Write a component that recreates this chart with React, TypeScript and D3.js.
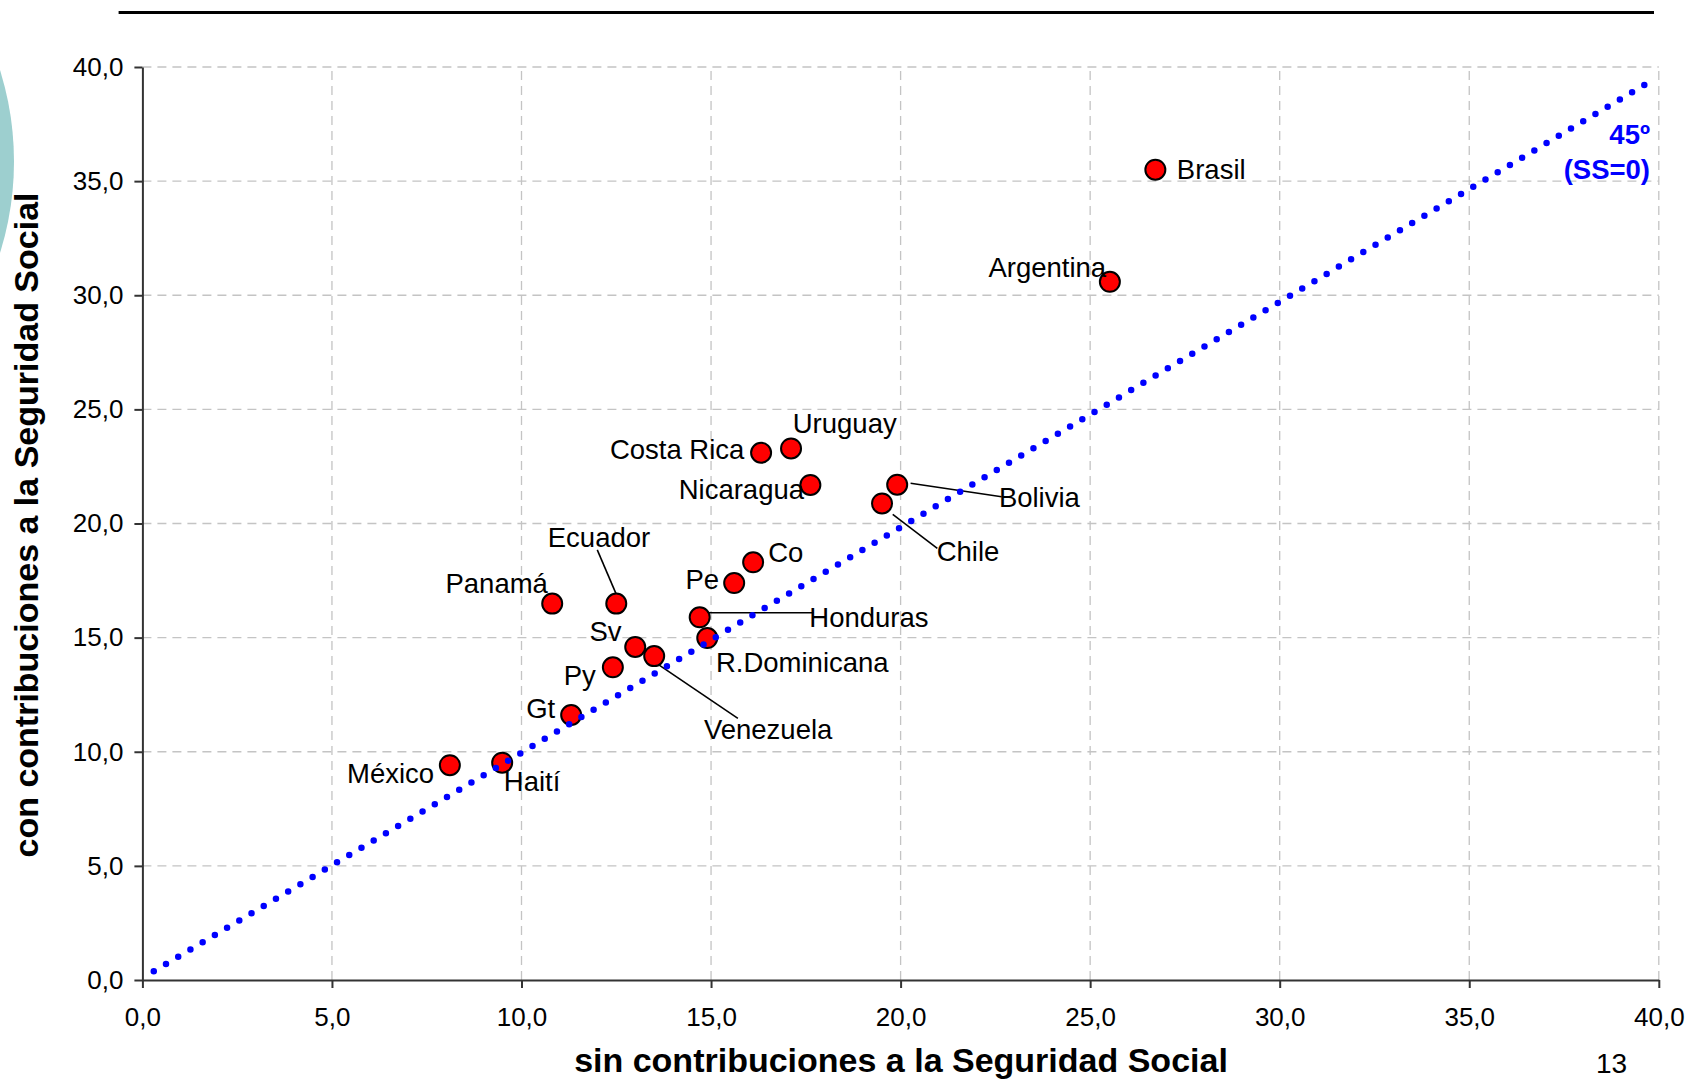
import React, { useEffect, useRef } from "react";
import * as d3 from "d3";

// ---- data ----
const countries = [
  "Brasil", "Argentina", "Uruguay", "Costa Rica", "Nicaragua", "Bolivia", "Chile",
  "Co", "Pe", "Panamá", "Ecuador", "Honduras", "R.Dominicana", "Sv", "Venezuela",
  "Py", "Gt", "Haití", "México",
];
const sinSS = [
  26.72, 25.52, 17.11, 16.32, 17.62, 19.91, 19.51,
  16.11, 15.61, 10.81, 12.5, 14.7, 14.9, 13.0, 13.5,
  12.41, 11.31, 9.49, 8.11,
];
const conSS = [
  35.5, 30.59, 23.29, 23.1, 21.69, 21.7, 20.88,
  18.3, 17.39, 16.49, 16.49, 15.89, 14.98, 14.59, 14.19,
  13.7, 11.61, 9.52, 9.41,
];
const diagonal = [
  { x: 0.3, y: 0.38 },
  { x: 39.94, y: 39.53 },
];
const tickValues = [0, 5, 10, 15, 20, 25, 30, 35, 40];
const xTitle = "sin contribuciones a la Seguridad Social";
const yTitle = "con contribuciones a la Seguridad Social";
const diagLabel = ["45º", "(SS=0)"];
const pageNumber = "13";

// ---- label layout (pixel offsets from marker centre) ----
type LabelPos = { dx: number; dy: number; anchor: string; leader?: [number, number, number, number] };
const labelLayout: Record<string, LabelPos> = {
  Brasil: { dx: 21.5, dy: 8.8, anchor: "start" },
  Argentina: { dx: -3.7, dy: -4.7, anchor: "end" },
  Uruguay: { dx: 1.7, dy: -15, anchor: "start" },
  "Costa Rica": { dx: -16.7, dy: 6.6, anchor: "end" },
  Nicaragua: { dx: -6.3, dy: 14.3, anchor: "end" },
  Ecuador: { dx: -17.3, dy: -57, anchor: "middle", leader: [-19, -53.7, 1, -7] },
  "Panamá": { dx: -4.3, dy: -11, anchor: "end" },
  Co: { dx: 15, dy: 0, anchor: "start" },
  Pe: { dx: -15, dy: 6, anchor: "end" },
  Honduras: { dx: 109.6, dy: 9.4, anchor: "start", leader: [0, -4.6, 113.6, -4.6] },
  "R.Dominicana": { dx: 8.7, dy: 33.7, anchor: "start" },
  Sv: { dx: -13.6, dy: -6, anchor: "end" },
  Venezuela: { dx: 49.7, dy: 83.3, anchor: "start", leader: [1.7, 6.7, 83.7, 62.3] },
  Py: { dx: -17, dy: 17.7, anchor: "end" },
  Gt: { dx: -16, dy: 3.3, anchor: "end" },
  Chile: { dx: 54.7, dy: 57.4, anchor: "start", leader: [10.7, 11, 55.3, 45] },
  Bolivia: { dx: 101.7, dy: 22, anchor: "start", leader: [13.4, -1.4, 104.4, 12] },
  "México": { dx: -15.7, dy: 18, anchor: "end" },
  "Haití": { dx: 1.7, dy: 28, anchor: "start" },
};

const W = 1688;
const H = 1080;
const FONT = "'Liberation Sans', Arial, Helvetica, sans-serif";

export default function App() {
  const xAxisRef = useRef<SVGGElement>(null);
  const yAxisRef = useRef<SVGGElement>(null);

  const x = d3.scaleLinear().domain([0, 40]).range([142.4, 1658.8]);
  const y = d3.scaleLinear().domain([0, 40]).range([980, 67]);
  const fmt = (v: number) => d3.format(".1f")(v).replace(".", ",");

  useEffect(() => {
    const style = (g: d3.Selection<SVGGElement, unknown, null, undefined>) => {
      g.select(".domain").attr("stroke", "#333").attr("stroke-width", 2);
      g.selectAll(".tick line").attr("stroke", "#333").attr("stroke-width", 2);
      g.selectAll(".tick text")
        .attr("fill", "#000")
        .style("font-family", FONT)
        .style("font-size", "26px");
    };
    if (xAxisRef.current) {
      const g = d3.select(xAxisRef.current);
      g.call(
        d3.axisBottom(x).tickValues(tickValues).tickSize(8).tickSizeOuter(0).tickPadding(20).tickFormat((d) => fmt(d as number))
      );
      style(g);
    }
    if (yAxisRef.current) {
      const g = d3.select(yAxisRef.current);
      g.call(
        d3.axisLeft(y).tickValues(tickValues).tickSize(8).tickSizeOuter(0).tickPadding(11).tickFormat((d) => fmt(d as number))
      );
      style(g);
    }
  }, []);

  const diagLine = d3
    .line<{ x: number; y: number }>()
    .x((d) => x(d.x))
    .y((d) => y(d.y));
  const p0 = diagonal[0];
  const p1 = diagonal[diagonal.length - 1];
  const diagLen = Math.hypot(x(p1.x) - x(p0.x), y(p1.y) - y(p0.y));
  const gap = diagLen / Math.round(diagLen / 14.2);

  const points = countries.map((name, i) => ({ name, px: x(sinSS[i]), py: y(conSS[i]) }));

  return (
    <svg
      width={W}
      height={H}
      style={{ position: "absolute", left: 0, top: 0, background: "#fff" }}
      fontFamily={FONT}
    >
      <rect x={0} y={0} width={W} height={H} fill="#fff" />
      {/* decorative teal circle */}
      <circle cx={-292} cy={161.5} r={306} fill="#9dcfcf" />
      {/* top rule */}
      <line x1={118.6} x2={1654} y1={12.5} y2={12.5} stroke="#000" strokeWidth={3} />

      {/* grid */}
      <g stroke="#c4c4c4" strokeWidth={1.3} strokeDasharray="9,6">
        {tickValues.filter((t) => t > 0).map((t) => (
          <line key={"v" + t} x1={x(t)} x2={x(t)} y1={y(0)} y2={y(40)} />
        ))}
        {tickValues.filter((t) => t > 0).map((t) => (
          <line key={"h" + t} x1={x(0)} x2={x(40)} y1={y(t)} y2={y(t)} />
        ))}
      </g>

      <g ref={xAxisRef} transform={`translate(0,${y(0)})`} />
      <g ref={yAxisRef} transform={`translate(${x(0)},0)`} />

      {/* leader lines */}
      <g stroke="#000" strokeWidth={1.6}>
        {points.map((p) => {
          const l = labelLayout[p.name];
          if (!l || !l.leader) return null;
          return (
            <line
              key={"ld" + p.name}
              x1={p.px + l.leader[0]}
              y1={p.py + l.leader[1]}
              x2={p.px + l.leader[2]}
              y2={p.py + l.leader[3]}
            />
          );
        })}
      </g>

      {/* markers */}
      <g>
        {points.map((p) => (
          <circle key={"c" + p.name} cx={p.px} cy={p.py} r={10} fill="#ff0000" stroke="#000" strokeWidth={2} />
        ))}
      </g>

      {/* 45 degree dotted line */}
      <path
        d={diagLine(diagonal) || ""}
        fill="none"
        stroke="#0000ff"
        strokeWidth={6.5}
        strokeLinecap="round"
        strokeDasharray={`0 ${gap}`}
      />

      {/* country labels */}
      <g fontSize={27.5} fill="#000">
        {points.map((p) => {
          const l = labelLayout[p.name];
          return (
            <text key={"t" + p.name} x={p.px + l.dx} y={p.py + l.dy} textAnchor={l.anchor}>
              {p.name}
            </text>
          );
        })}
      </g>

      {/* 45º label */}
      <g fill="#0000ff" fontWeight="bold" fontSize={27.5} textAnchor="end">
        <text x={1650} y={144}>{diagLabel[0]}</text>
        <text x={1650} y={179}>{diagLabel[1]}</text>
      </g>

      {/* axis titles */}
      <text x={901} y={1072} textAnchor="middle" fontWeight="bold" fontSize={34} fill="#000">
        {xTitle}
      </text>
      <text
        transform={`translate(38,525) rotate(-90)`}
        textAnchor="middle"
        fontWeight="bold"
        fontSize={34}
        fill="#000"
      >
        {yTitle}
      </text>

      <text x={1596} y={1073} fontSize={28} fill="#000">
        {pageNumber}
      </text>
    </svg>
  );
}
